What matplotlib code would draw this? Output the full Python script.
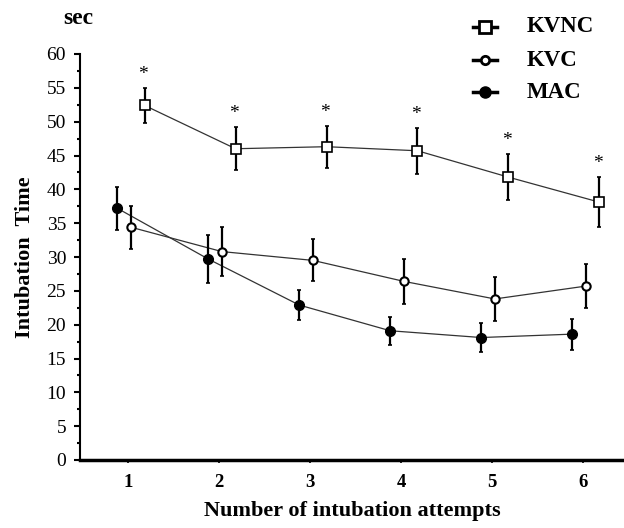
import matplotlib
matplotlib.use("Agg")
import matplotlib.pyplot as plt
import numpy as np
from matplotlib.lines import Line2D

attempts = [1, 2, 3, 4, 5, 6]
kvnc_mean = [52.4, 46.0, 46.3, 45.7, 41.8, 38.1]
kvnc_err = [2.6, 3.2, 3.1, 3.4, 3.4, 3.7]
kvc_mean = [34.4, 30.8, 29.5, 26.4, 23.8, 25.7]
kvc_err = [3.2, 3.6, 3.1, 3.3, 3.2, 3.2]
mac_mean = [37.2, 29.7, 22.9, 19.1, 18.1, 18.6]
mac_err = [3.2, 3.6, 2.2, 2.1, 2.1, 2.3]
series_labels = ["KVNC", "KVC", "MAC"]
star_text = "*"

plt.rcParams['font.family'] = ['Liberation Serif', 'DejaVu Serif']

W, H = 624, 528
fig = plt.figure(figsize=(W / 100, H / 100), dpi=100)
ax = fig.add_axes([80 / W, 1 - 460 / H, 544 / W, 406 / H])

x = np.array(attempts, dtype=float)
offs = {"KVNC": 0.18, "KVC": 0.03, "MAC": -0.12}
line_kw = dict(color='#333333', lw=0.9, zorder=2)
err_kw = dict(fmt='none', ecolor='black', elinewidth=1.6, capsize=1.5, capthick=1.2, zorder=3)

# KVNC
xk = x + offs["KVNC"]
ax.plot(xk, kvnc_mean, **line_kw)
ax.errorbar(xk, kvnc_mean, yerr=kvnc_err, **err_kw)
ax.plot(xk, kvnc_mean, 's', ms=7, mfc='white', mec='black', mew=1.2, zorder=4)
for xi, m, e in zip(xk, kvnc_mean, kvnc_err):
    ax.text(xi - 0.02, m + e + 2.0, star_text, ha='center', va='center', fontsize=14)

# KVC
xc = x + offs["KVC"]
ax.plot(xc, kvc_mean, **line_kw)
ax.errorbar(xc, kvc_mean, yerr=kvc_err, **err_kw)
ax.plot(xc, kvc_mean, 'o', ms=6, mfc='white', mec='black', mew=1.5, zorder=4)

# MAC
xm = x + offs["MAC"]
ax.plot(xm, mac_mean, **line_kw)
ax.errorbar(xm, mac_mean, yerr=mac_err, **err_kw)
ax.plot(xm, mac_mean, 'o', ms=7, mfc='black', mec='black', zorder=4)

ax.set_xlim(0.47, 6.45)
ax.set_ylim(0, 60)
ax.set_yticks(np.arange(0, 61, 5))
ax.set_yticks(np.arange(0, 61, 2.5), minor=True)
ax.set_xticks(attempts)
ax.tick_params(axis='y', which='major', direction='out', length=4, width=1.5, labelsize=14, pad=6)
ax.tick_params(axis='y', which='minor', direction='out', length=2.5, width=1.5)
ax.tick_params(axis='x', which='major', direction='out', length=2, width=1.2, labelsize=13.5, pad=8)
for lab in ax.get_xticklabels():
    lab.set_fontweight('bold')

ax.spines['top'].set_visible(False)
ax.spines['right'].set_visible(False)
ax.spines['left'].set_linewidth(1.5)
ax.spines['bottom'].set_linewidth(2.5)

ax.set_ylabel("Intubation  Time", fontsize=16, fontweight='bold', labelpad=8)
ax.set_xlabel("Number of intubation attempts", fontsize=16, fontweight='bold', labelpad=7)
fig.text(63 / W, 1 - 19 / H, "sec", fontsize=17, fontweight='bold', ha='left', va='center')

# legend, drawn in figure coordinates
handles = [
    dict(marker='s', ms=8, mfc='white', mew=2),
    dict(marker='o', ms=6, mfc='white', mew=2),
    dict(marker='o', ms=8, mfc='black', mew=1),
]
rows_y = [27, 60, 92]
for lab, hk, ry in zip(series_labels, handles, rows_y):
    yy = 1 - ry / H
    fig.add_artist(Line2D([473 / W, 497 / W], [yy, yy], color='black', lw=2.5, transform=fig.transFigure))
    fig.add_artist(Line2D([485 / W], [yy], color='black', mec='black', transform=fig.transFigure, **hk))
    fig.text(527 / W, yy, lab, fontsize=16.5, fontweight='bold', ha='left', va='center')

fig.savefig("out.png", dpi=100)
